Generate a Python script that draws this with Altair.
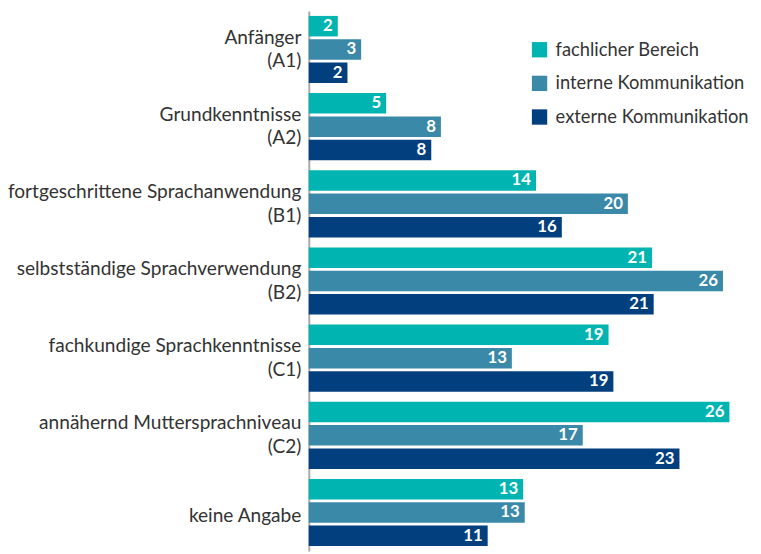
import altair as alt
import pandas as pd

categories = [
    "Anfänger\n(A1)",
    "Grundkenntnisse\n(A2)",
    "fortgeschrittene Sprachanwendung\n(B1)",
    "selbstständige Sprachverwendung\n(B2)",
    "fachkundige Sprachkenntnisse\n(C1)",
    "annähernd Muttersprachniveau\n(C2)",
    "keine Angabe",
]
series = ["fachlicher Bereich", "interne Kommunikation", "externe Kommunikation"]
fachlich = [1.8, 4.8, 14.1, 21.3, 18.6, 26.1, 13.3]
intern = [3.25, 8.2, 19.8, 25.7, 12.6, 17.0, 13.4]
extern = [2.4, 7.6, 15.7, 21.4, 18.9, 23.0, 11.1]
colors = ["#00B5B1", "#3B89A9", "#013F7F"]

rows = []
for s, vals in zip(series, [fachlich, intern, extern]):
    for c, v in zip(categories, vals):
        rows.append({"cat": c, "series": s, "value": v, "label": str(round(v))})
df = pd.DataFrame(rows)

FONT = "Lato"

y_enc = alt.Y(
    "cat:N",
    sort=categories,
    title=None,
    scale=alt.Scale(paddingInner=0.13, paddingOuter=0.065),
    axis=alt.Axis(
        labelExpr="split(datum.label, '\\n')",
        labelFontSize=19.3,
        labelFont=FONT,
        labelColor="#333333",
        labelLineHeight=24,
        labelPadding=8,
        labelOffset={"condition": {"test": "indexof(datum.label, '\\n') >= 0", "value": -12}, "value": 4},
        ticks=False,
        domainColor="#aaaaaa",
        domainWidth=2,
        labelLimit=400,
    ),
)
yoff = alt.YOffset("series:N", sort=series, scale=alt.Scale(paddingInner=0.12))
x_enc = alt.X("value:Q", title=None, scale=alt.Scale(domain=[0, 25.66], nice=False, zero=True), axis=None)

bars = alt.Chart(df).mark_bar().encode(
    y=y_enc,
    yOffset=yoff,
    x=x_enc,
    color=alt.Color(
        "series:N",
        sort=series,
        scale=alt.Scale(domain=series, range=colors),
        legend=alt.Legend(
            title=None,
            orient="none",
            legendX=224,
            legendY=30,
            symbolType="square",
            symbolSize=240,
            symbolStrokeWidth=0,
            labelFontSize=18.5,
            labelFont=FONT,
            labelColor="#333333",
            labelLimit=300,
            rowPadding=15,
            labelOffset=7,
            padding=0,
        ),
    ),
)

text = alt.Chart(df).mark_text(
    align="right", baseline="middle", dx=-5, color="white", fontSize=17, font=FONT, fontWeight="bold"
).encode(
    y=alt.Y("cat:N", sort=categories),
    yOffset=alt.YOffset("series:N", sort=series),
    x="value:Q",
    text="label:N",
)

chart = (
    alt.layer(bars, text)
    .properties(
        width=418,
        height=546,
        autosize=alt.AutoSizeParams(type="none"),
        padding={"left": 304, "top": 0, "right": 31, "bottom": 0},
    )
    .configure_view(stroke=None)
)

chart.save("out.html", embed_options={"renderer": "svg", "actions": False})
